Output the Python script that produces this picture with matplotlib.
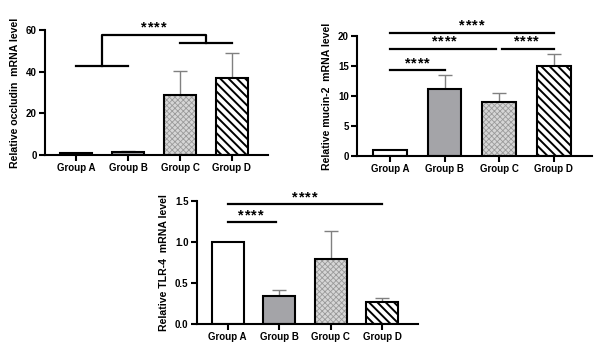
import matplotlib
matplotlib.use('Agg')
import matplotlib.pyplot as plt

plt.rcParams['font.family'] = ['Liberation Sans', 'DejaVu Sans']
plt.rcParams['font.weight'] = 'bold'
plt.rcParams['font.size'] = 7

groups = ['Group A', 'Group B', 'Group C', 'Group D']

occludin_mean = [0.8, 1.3, 28.7, 37.0]
occludin_err = [0.0, 0.5, 11.6, 11.8]

mucin_mean = [1.0, 11.2, 9.0, 15.0]
mucin_err = [0.0, 2.3, 1.5, 2.1]

tlr4_mean = [1.0, 0.34, 0.79, 0.27]
tlr4_err = [0.0, 0.07, 0.34, 0.05]

face = ['white', '#a4a4a8', '#d6d6d6', 'white']
hatches = [None, None, 'xxxxxx', '\\\\\\\\']
hatch_col = ['black', 'black', '#9a9a9a', 'black']
hatch_lw = [1.0, 1.0, 0.6, 1.4]


def draw_panel(ax, means, errs, ylabel, ymax, yticks, ticklabels):
    x = list(range(len(groups)))
    ax.errorbar(x, means, yerr=[[0] * len(errs), errs], fmt='none',
                ecolor='#808080', elinewidth=1, capsize=5, capthick=1, zorder=1)
    for i in x:
        plt.rcParams['hatch.linewidth'] = hatch_lw[i]
        ax.bar(i, means[i], width=0.62, color=face[i], hatch=hatches[i],
               edgecolor=hatch_col[i], linewidth=0, zorder=2)
        ax.bar(i, means[i], width=0.62, fill=False, edgecolor='black',
               linewidth=1.5, zorder=3)
    ax.set_xlim(-0.6, 3.7)
    ax.set_ylim(0, ymax)
    ax.set_yticks(yticks)
    ax.set_yticklabels(ticklabels)
    ax.set_xticks(x)
    ax.set_xticklabels(groups)
    ax.set_ylabel(ylabel, fontweight='bold', fontsize=7.6, labelpad=4)
    for s in ['top', 'right']:
        ax.spines[s].set_visible(False)
    for s in ['left', 'bottom']:
        ax.spines[s].set_linewidth(1.5)
    ax.tick_params(width=1.5, length=4, pad=2)


def hline(ax, x0, x1, y):
    ax.plot([x0, x1], [y, y], color='black', lw=1.6, clip_on=False, zorder=4)


def stars(ax, x, y):
    # four spaced asterisks over the line at height y
    for dx in (-7.0, -2.35, 2.35, 7.0):
        ax.annotate('*', xy=(x, y), xytext=(dx, 2.2), textcoords='offset points',
                    ha='center', va='baseline', fontsize=10.5,
                    fontweight='bold', annotation_clip=False)


fig = plt.figure(figsize=(6, 3.51), dpi=100)

ax1 = fig.add_axes([0.075, 0.558, 0.372, 0.357])
draw_panel(ax1, occludin_mean, occludin_err, 'Relative occludin  mRNA level',
           60, [0, 20, 40, 60], ['0', '20', '40', '60'])
hline(ax1, 0, 1, 42.7)
hline(ax1, 2, 3, 53.8)
ax1.plot([0.5, 0.5, 2.5, 2.5], [42.7, 57.6, 57.6, 53.8], color='black',
         lw=1.6, clip_on=False, zorder=4)
stars(ax1, 1.5, 57.6)

ax2 = fig.add_axes([0.595, 0.556, 0.392, 0.341])
draw_panel(ax2, mucin_mean, mucin_err, 'Relative mucin-2  mRNA level',
           20, [0, 5, 10, 15, 20], ['0', '5', '10', '15', '20'])
hline(ax2, 0, 1, 14.3)
stars(ax2, 0.5, 14.3)
hline(ax2, 0, 1.95, 17.9)
stars(ax2, 1.0, 17.9)
hline(ax2, 2.05, 3, 17.9)
stars(ax2, 2.5, 17.9)
hline(ax2, 0, 3, 20.6)
stars(ax2, 1.5, 20.6)

ax3 = fig.add_axes([0.328, 0.077, 0.369, 0.35])
draw_panel(ax3, tlr4_mean, tlr4_err, 'Relative TLR-4  mRNA level',
           1.5, [0, 0.5, 1.0, 1.5], ['0.0', '0.5', '1.0', '1.5'])
hline(ax3, 0, 0.93, 1.24)
stars(ax3, 0.45, 1.24)
hline(ax3, 0, 3, 1.46)
stars(ax3, 1.5, 1.46)

fig.savefig('out.png', dpi=100)
